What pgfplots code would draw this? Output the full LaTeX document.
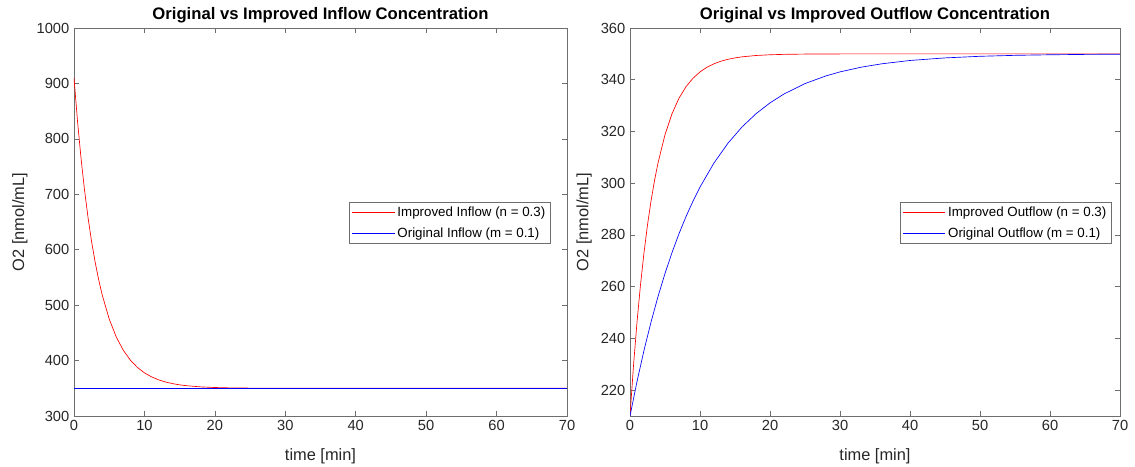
\documentclass[border=0pt]{standalone}
\usepackage{fontspec}
\setmainfont{Liberation Sans}
\usepackage{pgfplots}
\pgfplotsset{compat=1.18}
\definecolor{axgray}{RGB}{38,38,38}
\definecolor{linegray}{RGB}{110,110,110}
\pgfplotsset{
 mystyle/.style={
  scale only axis, height=291pt,
  xmin=0, xmax=70, xtick={0,10,...,70},
  axis line style={linegray, line width=0.5pt},
  tick style={linegray, line width=0.5pt},
  tick align=inside, major tick length=4pt,
  tick label style={font=\fontsize{11}{13}\selectfont, text=axgray},
  /pgf/number format/assume math mode=true,
  /pgf/number format/1000 sep={},
  label style={font=\fontsize{12.3}{14}\selectfont, text=axgray},
  xlabel style={yshift=-6pt},
  title style={font=\fontsize{12.5}{15}\selectfont\bfseries, text=black, yshift=-6pt},
  legend style={font=\fontsize{10}{12}\selectfont, draw=linegray, line width=0.5pt, inner xsep=2pt, inner ysep=1pt, row sep=3pt},
  legend cell align=left,
  legend image code/.code={\fill[#1, draw=none] (0pt,-0.45pt) rectangle (32pt,0.45pt);},
  xlabel={time [min]}, ylabel={O2 [nmol/mL]},
 }
}
\begin{document}
\begin{tikzpicture}
\begin{axis}[mystyle, width=369.75pt, at={(0,0)}, anchor=south west,
  ymin=300, ymax=1000, ytick={300,400,...,1000},
  title={Original vs Improved Inflow Concentration},
  legend style={at={(0.9675,0.5515)}, anchor=north east}]
\addplot[color=red, line width=0.5pt] coordinates {
(0,910) (0.5,831.99) (1,764.86) (1.5,707.07) (2,657.33) (2.5,614.53) (3,577.68) (3.5,545.97) (4,518.67) (5,474.95) (6,442.57) (7,418.58) (8,400.80) (9,387.64) (10,377.88) (11,370.65) (12,365.30) (13,361.34) (14,358.40) (15,356.22) (16,354.61) (18,352.53) (20,351.39) (22,350.76) (25,350.31) (30,350.07) (40,350.00) (70,350.00)};
\addlegendentry{Improved Inflow (n = 0.3)}
\addplot[color=blue, line width=0.5pt] coordinates {(0,350) (70,350)};
\addlegendentry{Original Inflow (m = 0.1)}
\end{axis}
\begin{axis}[mystyle, width=367.5pt, at={(417pt,0)}, anchor=south west,
  ymin=210, ymax=360, ytick={220,240,...,360},
  title={Original vs Improved Outflow Concentration},
  legend style={at={(0.9837,0.5515)}, anchor=north east}]
\addplot[color=red, line width=0.5pt] coordinates {
(0,210) (0.5,229.50) (1,246.29) (1.5,260.73) (2,273.17) (2.5,283.87) (3,293.08) (3.5,301.01) (4,307.83) (5,318.76) (6,326.86) (7,332.86) (8,337.30) (9,340.59) (10,343.03) (11,344.84) (12,346.17) (13,347.17) (14,347.90) (15,348.44) (16,348.85) (18,349.37) (20,349.65) (22,349.81) (25,349.92) (30,349.98) (40,350.00) (70,350.00)};
\addlegendentry{Improved Outflow (n = 0.3)}
\addplot[color=blue, line width=0.5pt] coordinates {
(0,210) (1,223.32) (2,235.38) (3,246.29) (4,256.16) (5,265.09) (6,273.17) (7,280.48) (8,287.09) (9,293.08) (10,298.50) (12,307.83) (14,315.48) (16,321.73) (18,326.86) (20,331.05) (22,334.49) (25,338.51) (28,341.49) (30,343.03) (33,344.84) (36,346.17) (40,347.44) (45,348.44) (50,349.06) (55,349.43) (60,349.65) (65,349.79) (70,349.87)};
\addlegendentry{Original Outflow (m = 0.1)}
\end{axis}
\pgfresetboundingbox
\path (-55.5pt,-38.25pt) rectangle (795.75pt,312pt);
\end{tikzpicture}
\end{document}
